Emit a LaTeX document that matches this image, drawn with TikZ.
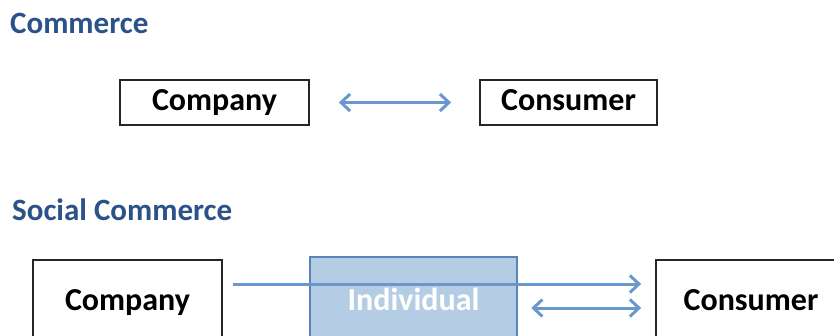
\documentclass[tikz,border=0pt]{standalone}
\usepackage{fontspec}
\setmainfont{Carlito}
\usetikzlibrary{arrows.meta}
\definecolor{titleblue}{RGB}{44,82,138}
\definecolor{arrowblue}{RGB}{106,151,204}
\definecolor{indfill}{RGB}{180,204,228}
\definecolor{indline}{RGB}{88,132,186}
\tikzset{
  box/.style={draw=black!85, line width=1.8pt, fill=white, inner sep=0pt, font=\bfseries\fontsize{32}{32}\selectfont, text height=22pt, text depth=6pt},
  indbox/.style={draw=indline, line width=2.5pt, fill=indfill, inner sep=0pt, text=white, font=\bfseries\fontsize{32}{32}\selectfont, text height=22pt, text depth=6pt},
  titletext/.style={anchor=base west, inner sep=0pt, text=titleblue, font=\bfseries\fontsize{31}{31}\selectfont},
  conn/.style={draw=arrowblue, line width=3pt, {Straight Barb[length=9pt,width=17pt,line width=3pt]}-{Straight Barb[length=9pt,width=17pt,line width=3pt]}},
  connone/.style={draw=arrowblue, line width=3pt, -{Straight Barb[length=9pt,width=17pt,line width=3pt]}}
}
\begin{document}
\begin{tikzpicture}[x=1pt,y=-1pt]
\useasboundingbox (0,0) rectangle (834,336);
\clip (0,0) rectangle (834,336);
\fill[white] (0,0) rectangle (834,336);
% titles
\node[titletext] (t1) at (10,34) {Commerce};
\node[titletext] (t2) at (12,221) {Social Commerce};
% top row
\node[box, minimum width=189pt, minimum height=45pt] (comp1) at (214.5,102.5) {Company};
\node[box, minimum width=177pt, minimum height=45pt] (cons1) at (568.5,102.5) {Consumer};
\draw[conn, shorten <=29pt, shorten >=28pt] (comp1.east) -- (cons1.west);
% bottom row
\node[box, minimum width=189pt, minimum height=84pt] (comp2) at (127.5,302) {Company};
\node[indbox, minimum width=207pt, minimum height=90pt] (ind) at (413.5,302) {Individual};
\node[box, minimum width=190pt, minimum height=84pt] (cons2) at (751,302) {Consumer};
\draw[connone, shorten <=10pt, shorten >=14pt] ([yshift=18pt]comp2.east) -- ([yshift=18pt]cons2.west);
\draw[conn, shorten <=13pt, shorten >=14pt] ([yshift=-6pt]ind.east) -- ([yshift=-6pt]cons2.west);
\end{tikzpicture}
\end{document}
